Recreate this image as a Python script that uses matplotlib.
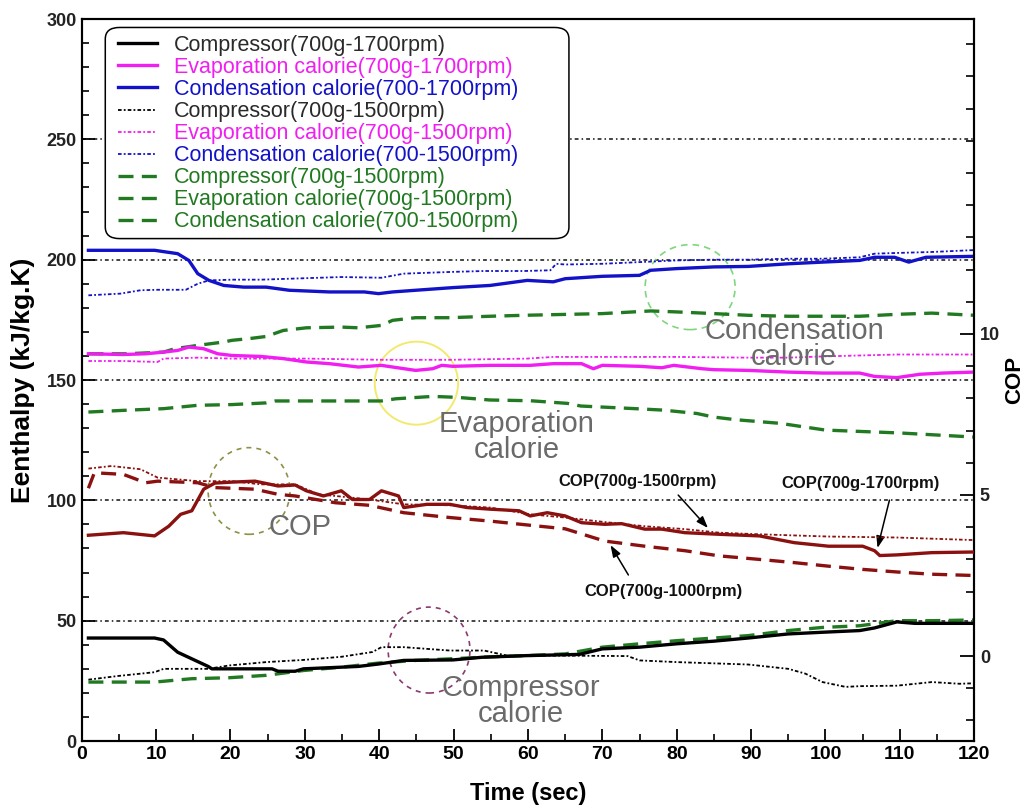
import matplotlib
matplotlib.use("Agg")
import matplotlib.pyplot as plt
from matplotlib.patches import Ellipse, FancyBboxPatch

# ---------------- data ----------------
# Enthalpy series (kJ/kg.K) versus time (sec)
comp1700_t = [0.9, 9.8, 11.0, 12.9, 17.0, 17.5, 25.6, 26.4, 28.7, 29.8, 37.2, 39.9, 43.3, 49.9, 53.8,
              59.9, 66.9, 70.0, 75.0, 80.0, 85.0, 89.6, 95.0, 99.6, 104.6, 106.6, 109.6, 112.0, 120.0]
comp1700_v = [42.8, 42.8, 42.0, 36.9, 31.0, 30.0, 30.0, 29.0, 29.0, 30.0, 31.0, 32.0, 33.5, 33.7, 34.8,
              35.5, 36.0, 38.3, 39.0, 40.4, 41.5, 42.8, 44.5, 45.2, 45.9, 47.0, 49.5, 48.9, 48.9]

comp1500_t = [0.9, 4.8, 9.8, 11.0, 17.0, 19.8, 24.8, 29.8, 34.9, 39.1, 40.3, 43.3, 49.5, 54.1, 57.2,
              64.2, 73.4, 75.0, 80.0, 89.6, 95.0, 97.3, 99.6, 102.7, 104.6, 109.6, 114.3, 118.0, 120.0]
comp1500_v = [25.5, 27.0, 28.6, 30.0, 30.0, 31.4, 32.8, 33.7, 35.0, 37.0, 39.0, 39.0, 37.6, 37.6, 35.5,
              35.5, 35.3, 33.5, 32.8, 31.8, 30.0, 28.0, 24.5, 22.5, 22.8, 23.0, 24.5, 23.8, 24.0]

comp_g_t = [0.9, 9.8, 14.8, 19.8, 24.8, 29.8, 34.9, 39.9, 44.9, 49.9, 54.9, 59.9, 65.0, 70.0, 75.0,
            80.0, 85.0, 89.6, 95.0, 99.6, 104.6, 109.6, 114.3, 120.0]
comp_g_v = [24.5, 24.5, 25.9, 26.3, 27.3, 29.3, 30.7, 32.4, 33.5, 34.2, 35.0, 35.5, 36.2, 39.0, 40.4,
            41.7, 42.8, 43.8, 45.9, 47.2, 47.9, 50.0, 50.0, 50.3]

cond1700_t = [0.9, 9.8, 12.9, 14.4, 15.6, 17.1, 19.1, 21.8, 24.8, 27.9, 33.3, 38.0, 39.9, 41.8, 44.9,
              49.9, 54.9, 59.9, 63.4, 65.0, 70.0, 75.0, 76.5, 80.0, 85.0, 89.6, 95.0, 99.6, 104.6,
              106.6, 109.3, 111.2, 113.5, 120.0]
cond1700_v = [203.9, 203.9, 202.5, 199.7, 194.2, 191.4, 189.3, 188.6, 188.6, 187.3, 186.6, 186.6, 185.9,
              186.6, 187.3, 188.4, 189.3, 191.4, 190.8, 192.1, 193.1, 193.5, 195.6, 196.3, 197.0, 197.2,
              198.3, 199.0, 199.7, 201.0, 201.0, 199.0, 201.0, 201.4]

cond1500_t = [0.9, 5.2, 7.9, 10.2, 14.0, 15.6, 17.1, 20.2, 24.1, 34.9, 40.3, 43.3, 49.5, 54.1, 59.5,
              63.0, 63.8, 65.0, 70.0, 75.0, 80.0, 85.0, 89.6, 95.0, 99.6, 104.6, 106.6, 109.6, 114.3, 120.0]
cond1500_v = [185.2, 185.9, 187.3, 187.5, 187.5, 190.0, 191.4, 191.7, 191.7, 192.8, 192.5, 194.2, 194.9,
              195.3, 195.3, 195.6, 198.3, 198.0, 198.3, 199.0, 199.7, 200.0, 200.0, 200.4, 200.4, 201.0,
              202.5, 202.8, 203.2, 204.0]

cond_g_t = [0.9, 6.0, 11.0, 12.5, 15.6, 19.1, 20.2, 22.5, 24.8, 27.1, 30.2, 34.9, 37.2, 40.3, 41.8,
            44.9, 49.5, 54.9, 59.5, 70.0, 76.5, 80.0, 85.0, 89.6, 95.0, 104.6, 109.6, 114.3, 120.0]
cond_g_v = [160.9, 160.9, 161.6, 163.0, 164.4, 165.8, 166.5, 167.2, 168.1, 170.6, 171.7, 172.0, 171.7,
            172.7, 174.8, 175.9, 175.9, 176.5, 176.9, 177.6, 178.7, 178.3, 177.6, 176.9, 176.5, 176.5,
            177.3, 177.8, 176.9]

evap1700_t = [0.9, 5.6, 8.6, 11.0, 12.9, 14.4, 16.4, 18.3, 20.2, 24.1, 27.1, 30.2, 33.3, 37.2, 40.3,
              41.8, 44.9, 47.2, 48.4, 49.9, 54.9, 60.3, 63.4, 67.2, 68.8, 70.0, 75.0, 78.0, 79.6, 83.4,
              85.0, 89.6, 95.0, 99.6, 104.6, 106.6, 109.6, 112.7, 115.8, 120.0]
evap1700_v = [160.9, 160.6, 160.9, 161.6, 162.3, 163.7, 163.0, 160.9, 160.2, 159.8, 158.9, 157.5, 156.8,
              155.4, 156.1, 155.4, 154.0, 154.7, 156.1, 155.7, 156.1, 156.1, 156.8, 156.8, 154.7, 156.1,
              155.7, 155.1, 156.1, 154.7, 154.3, 154.0, 153.3, 152.9, 152.9, 151.5, 151.0, 152.4, 152.9,
              153.3]

evap1500_t = [0.9, 5.6, 10.2, 11.0, 15.6, 20.2, 30.2, 40.3, 49.5, 59.9, 63.4, 70.0, 80.0, 89.6, 95.0,
              99.6, 104.6, 109.6, 120.0]
evap1500_v = [157.9, 157.9, 157.5, 158.9, 159.3, 158.9, 158.9, 158.4, 158.4, 158.9, 159.6, 159.6, 159.6,
              159.3, 159.3, 159.8, 160.2, 160.6, 160.6]

evap_g_t = [0.9, 5.6, 11.0, 15.6, 20.2, 24.8, 26.0, 40.3, 42.2, 47.2, 50.5, 54.9, 60.3, 65.3, 67.1,
            73.8, 78.2, 82.7, 85.0, 88.0, 93.9, 100.0, 110.0, 120.0]
evap_g_v = [136.7, 137.4, 138.1, 139.5, 139.8, 140.5, 141.3, 141.3, 142.2, 143.2, 142.8, 141.7, 141.4,
            140.3, 139.2, 138.2, 137.5, 136.1, 134.6, 133.5, 132.0, 129.2, 128.0, 126.3]

# COP series (right axis)
cop1700_t = [0.9, 5.6, 9.8, 11.7, 13.3, 14.8, 16.4, 17.9, 20.2, 23.3, 26.4, 28.7, 30.2, 32.5, 34.9,
             36.4, 38.7, 40.3, 42.6, 43.3, 46.4, 49.5, 51.8, 54.9, 58.8, 60.3, 62.6, 65.0, 67.2, 70.3,
             72.6, 75.7, 78.0, 81.1, 85.7, 91.1, 95.8, 100.4, 105.0, 106.6, 107.3, 109.6, 114.3, 120.0]
cop1700_v = [3.75, 3.83, 3.73, 4.03, 4.40, 4.51, 5.18, 5.37, 5.40, 5.43, 5.28, 5.31, 5.13, 4.97, 5.13,
             4.86, 4.86, 5.13, 4.97, 4.61, 4.71, 4.71, 4.61, 4.56, 4.51, 4.35, 4.45, 4.35, 4.14, 4.09,
             4.11, 3.94, 3.94, 3.83, 3.78, 3.73, 3.52, 3.41, 3.41, 3.27, 3.12, 3.14, 3.21, 3.23]

cop1500_t = [0.9, 4.0, 7.9, 10.2, 15.6, 20.2, 24.1, 28.7, 31.8, 34.1, 38.7, 43.3, 49.5, 54.9, 60.3,
             65.0, 70.3, 75.7, 81.1, 85.7, 91.1, 100.4, 109.6, 120.0]
cop1500_v = [5.82, 5.90, 5.80, 5.54, 5.43, 5.43, 5.33, 5.33, 5.02, 4.97, 4.86, 4.71, 4.68, 4.61, 4.40,
             4.30, 4.16, 4.03, 3.94, 3.83, 3.78, 3.71, 3.68, 3.60]

cop1000_t = [0.9, 1.7, 5.6, 8.6, 10.2, 15.6, 17.9, 23.3, 26.4, 28.7, 34.1, 38.7, 43.3, 49.5, 54.9,
             60.3, 65.0, 70.3, 75.7, 81.1, 85.7, 91.1, 95.8, 100.4, 105.0, 109.6, 114.3, 120.0]
cop1000_v = [5.21, 5.69, 5.64, 5.38, 5.43, 5.38, 5.23, 5.18, 5.02, 4.97, 4.76, 4.68, 4.45, 4.30, 4.19,
             4.06, 3.95, 3.57, 3.41, 3.27, 3.11, 3.00, 2.90, 2.79, 2.69, 2.61, 2.54, 2.50]

legend_labels = [
    "Compressor(700g-1700rpm)",
    "Evaporation calorie(700g-1700rpm)",
    "Condensation calorie(700-1700rpm)",
    "Compressor(700g-1500rpm)",
    "Evaporation calorie(700g-1500rpm)",
    "Condensation calorie(700-1500rpm)",
    "Compressor(700g-1500rpm)",
    "Evaporation calorie(700g-1500rpm)",
    "Condensation calorie(700-1500rpm)",
]

# ---------------- style ----------------
plt.rcParams["font.family"] = ["Liberation Sans", "DejaVu Sans"]

BLACK = "#000000"
MAGENTA = "#f01ef0"
BLUE = "#1212c8"
GREEN = "#217a21"
DARKRED = "#8b1010"
GRAY_TXT = "#6a6a6a"

solid = dict(ls="-", lw=2.4)
dotted = dict(ls=(0, (2.0, 1.2, 1.0, 1.2)), lw=1.3)
dashed = dict(ls=(0, (4.5, 2.5)), lw=2.4)

fig = plt.figure(figsize=(10.24, 8.06), dpi=100)
ax = fig.add_axes([0.0798, 0.0806, 0.8716, 0.8958])
ax2 = ax.twinx()

# reference lines
for gy in [50, 100, 150, 200, 250]:
    ax.axhline(gy, color="#111111", lw=1.1, ls=(0, (2.5, 2.0, 1.0, 2.0)), zorder=1)

lines = []
lines += ax.plot(comp1700_t, comp1700_v, color=BLACK, **solid, zorder=4)
lines += ax.plot(evap1700_t, evap1700_v, color=MAGENTA, **solid, zorder=4)
lines += ax.plot(cond1700_t, cond1700_v, color=BLUE, **solid, zorder=4)
lines += ax.plot(comp1500_t, comp1500_v, color=BLACK, **dotted, zorder=3)
lines += ax.plot(evap1500_t, evap1500_v, color=MAGENTA, **dotted, zorder=3)
lines += ax.plot(cond1500_t, cond1500_v, color=BLUE, **dotted, zorder=3)
lines += ax.plot(comp_g_t, comp_g_v, color=GREEN, **dashed, zorder=3)
lines += ax.plot(evap_g_t, evap_g_v, color=GREEN, **dashed, zorder=3)
lines += ax.plot(cond_g_t, cond_g_v, color=GREEN, **dashed, zorder=3)

ax2.plot(cop1700_t, cop1700_v, color=DARKRED, **solid, zorder=4)
ax2.plot(cop1500_t, cop1500_v, color=DARKRED, **dotted, zorder=3)
ax2.plot(cop1000_t, cop1000_v, color=DARKRED, **dashed, zorder=3)

# axes ranges and ticks
ax.set_xlim(0, 120)
ax.set_ylim(0, 300)
ax2.set_ylim(-2.64, 19.78)

ax.set_xticks(range(0, 121, 10))
ax.set_xticks(range(5, 121, 10), minor=True)
ax.set_yticks(range(0, 301, 50))
ax.set_yticks(range(0, 301, 10), minor=True)
ax2.set_yticks([0, 5, 10])
ax2.set_yticks(range(-2, 20), minor=True)

ax.tick_params(axis="both", which="major", direction="in", length=9, width=1.3)
ax.tick_params(axis="both", which="minor", direction="in", length=5, width=1.2)
ax.tick_params(axis="y", which="both", right=False)
ax2.tick_params(axis="y", which="major", direction="in", length=10, width=1.3, pad=4)
ax2.tick_params(axis="y", which="minor", direction="in", length=6, width=1.2)

for lab in ax.get_xticklabels():
    lab.set_fontweight("bold")
    lab.set_fontsize(14)
for lab in ax.get_yticklabels() + ax2.get_yticklabels():
    lab.set_fontweight("bold")
    lab.set_fontsize(13)
    lab.set_color("#222222")

for sp in list(ax.spines.values()) + list(ax2.spines.values()):
    sp.set_linewidth(1.5)

ax.set_xlabel("Time (sec)", fontsize=17, fontweight="bold", labelpad=14)
ax.set_ylabel("Eenthalpy (kJ/kg.K)", fontsize=19, fontweight="bold", labelpad=8)
ax2.set_ylabel("COP", fontsize=16, fontweight="bold", labelpad=3)

# legend (entries drawn by the legend, rounded box drawn separately so it can be wider)
leg = ax.legend(lines, legend_labels, loc="upper left", bbox_to_anchor=(0.0314, 0.990),
                borderaxespad=0.0, fontsize=15.5, handlelength=1.8, handletextpad=0.8,
                labelspacing=0.05, borderpad=0.4, frameon=False)
leg.set_zorder(11)
text_colors = ["#2a2a2a", MAGENTA, BLUE, "#2a2a2a", MAGENTA, BLUE, GREEN, GREEN, GREEN]
for txt, c in zip(leg.get_texts(), text_colors):
    txt.set_color(c)

box = FancyBboxPatch((0.0284 + 0.012, 0.6939 + 0.016), 0.5155 - 0.024, 0.2964 - 0.032,
                     boxstyle="round,pad=0.0,rounding_size=0.016",
                     transform=ax.transAxes, fc="white", ec="black", lw=1.1, zorder=10)
box.set_boxstyle("round", pad=0.014, rounding_size=0.016)
ax.add_patch(box)

# highlight ellipses
ax.add_patch(Ellipse((81.8, 188.6), 12.1, 35.3, fill=False, ec="#7fd67f", lw=1.2,
                     ls=(0, (4, 3)), zorder=2))
ax.add_patch(Ellipse((45.0, 148.7), 11.2, 34.5, fill=False, ec="#f2ea70", lw=1.4, zorder=2))
ax.add_patch(Ellipse((22.5, 103.9), 11.0, 36.0, fill=False, ec="#8f8f45", lw=1.2,
                     ls=(0, (3, 3)), zorder=2))
ax.add_patch(Ellipse((46.7, 37.8), 11.0, 35.7, fill=False, ec="#8a3a70", lw=1.2,
                     ls=(0, (3, 3)), zorder=2))

# group captions
cap = dict(color=GRAY_TXT, fontsize=21, ha="center", va="center", linespacing=0.92, zorder=6)
ax.text(95.8, 165.0, "Condensation\ncalorie", **cap)
ax.text(58.5, 126.3, "Evaporation\ncalorie", **cap)
ax.text(29.4, 88.9, "COP", **cap)
ax.text(59.1, 16.6, "Compressor\ncalorie", **cap)

# COP call-outs
arrow = dict(arrowstyle="-|>,head_length=0.7,head_width=0.25", color="black", lw=1.1,
             shrinkA=0, shrinkB=0)
small = dict(fontsize=12, fontweight="bold", color="#111111",
             ha="center", va="center", zorder=7)
ax.text(74.7, 108.0, "COP(700g-1500rpm)", **small)
ax.annotate("", xy=(84.2, 88.5), xytext=(80.2, 102.2), arrowprops=arrow)
ax.text(104.7, 106.8, "COP(700g-1700rpm)", **small)
ax.annotate("", xy=(107.0, 80.2), xytext=(108.6, 100.1), arrowprops=arrow)
ax.text(78.2, 62.3, "COP(700g-1000rpm)", **small)
ax.annotate("", xy=(71.1, 81.4), xytext=(73.5, 69.0), arrowprops=arrow)

fig.savefig("out.png", dpi=100)
